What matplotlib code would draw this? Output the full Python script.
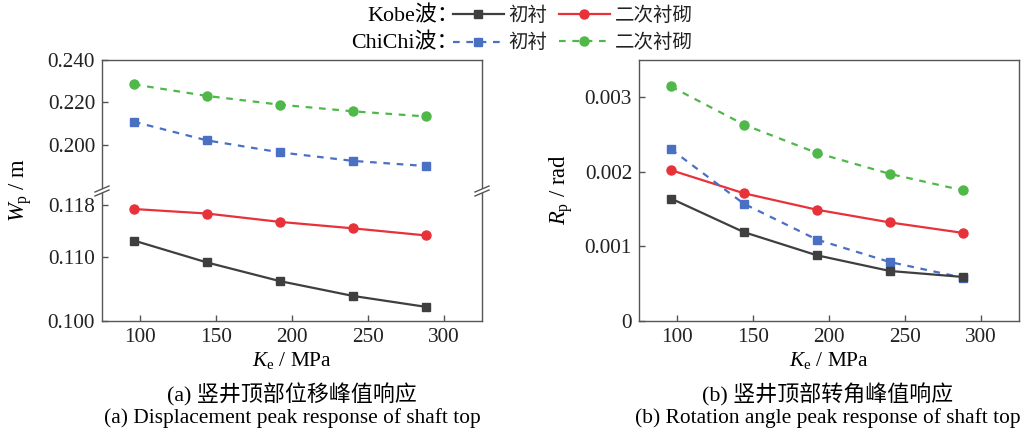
import matplotlib
matplotlib.use("Agg")
import matplotlib.pyplot as plt
from matplotlib.lines import Line2D
from matplotlib.patches import Polygon

plt.rcParams['font.family'] = ['Liberation Serif', 'Noto Sans CJK SC']
plt.rcParams['mathtext.fontset'] = 'custom'
plt.rcParams['mathtext.it'] = 'Liberation Serif:italic'
plt.rcParams['mathtext.rm'] = 'Liberation Serif'

# ---------------- data ----------------
ke = [96, 144, 192, 240, 288]
# (a) displacement peak Wp (m)
wp_kobe_lining = [0.1125, 0.1091, 0.1062, 0.1039, 0.1022]
wp_kobe_second = [0.1174, 0.1167, 0.1154, 0.1144, 0.1133]
wp_chichi_lining = [0.2109, 0.2022, 0.1966, 0.1926, 0.1902]
wp_chichi_second = [0.2284, 0.2230, 0.2189, 0.2158, 0.2134]
# (b) rotation angle peak Rp (rad)
rp_kobe_lining = [0.00164, 0.00119, 0.00088, 0.00067, 0.00059]
rp_kobe_second = [0.00202, 0.00171, 0.00149, 0.00132, 0.00118]
rp_chichi_lining = [0.00230, 0.00157, 0.00109, 0.00079, 0.00058]
rp_chichi_second = [0.00314, 0.00263, 0.00225, 0.00197, 0.00175]

xticks = [100, 150, 200, 250, 300]
wp_upper_ticks = [0.200, 0.220, 0.240]
wp_lower_ticks = [0.100, 0.110, 0.118]
rp_ticks = [0, 0.001, 0.002, 0.003]
rp_ticklabels = ["0", "0.001", "0.002", "0.003"]

legend_labels = ["初衬", "初衬", "二次衬砌", "二次衬砌"]
wave_labels = ["Kobe波：", "ChiChi波："]
captions_a = ["(a) 竖井顶部位移峰值响应", "(a) Displacement peak response of shaft top"]
captions_b = ["(b) 竖井顶部转角峰值响应", "(b) Rotation angle peak response of shaft top"]

# ---------------- styles ----------------
c_black = '#3f3f3f'
c_red = '#e8323a'
c_blue = '#4a70c4'
c_green = '#4fb848'
spine_c = '#555555'
FS = 15.3
W, H = 1022, 429
styles = {
    'kl': dict(color=c_black, marker='s', ls='-', lw=1.6, ms=6),
    'ks': dict(color=c_red, marker='o', ls='-', lw=1.6, ms=6.5),
    'cl': dict(color=c_blue, marker='s', ls=(0, (3, 3)), lw=1.6, ms=6),
    'cs': dict(color=c_green, marker='o', ls=(0, (3, 3)), lw=1.6, ms=6.5),
}

fig = plt.figure(figsize=(W / 100, H / 100), dpi=100)

def fx(px):
    return px / W

def fy(py):
    return 1 - py / H

def style_ax(ax):
    for s in ax.spines.values():
        s.set_color(spine_c)
        s.set_linewidth(1.0)
    ax.tick_params(direction='in', length=4, width=1.0, colors=spine_c,
                   labelsize=FS, labelcolor='#222222', pad=5)

# left panel (broken axis)
L, R = 102, 482
TOP, BRK, BOT = 59.6, 191, 321
ax_u = fig.add_axes([fx(L), fy(BRK), fx(R - L), (BRK - TOP) / H])
ax_l = fig.add_axes([fx(L), fy(BOT), fx(R - L), (BOT - BRK) / H])
for ax in (ax_u, ax_l):
    style_ax(ax)
    ax.set_xlim(75, 325)
    ax.set_xticks(xticks)
ax_u.spines['bottom'].set_visible(False)
ax_u.tick_params(axis='x', bottom=False, labelbottom=False)
ax_l.spines['top'].set_visible(False)

ax_u.plot(ke, wp_chichi_second, **styles['cs'])
ax_u.plot(ke, wp_chichi_lining, **styles['cl'])
ax_l.plot(ke, wp_kobe_second, **styles['ks'])
ax_l.plot(ke, wp_kobe_lining, **styles['kl'])
ax_u.set_ylim(0.1785, 0.2400)
ax_u.set_yticks(wp_upper_ticks)
ax_u.set_yticklabels([f"{v:.3f}" for v in wp_upper_ticks])
ax_l.set_ylim(0.100, 0.1202)
ax_l.set_yticks(wp_lower_ticks)
ax_l.set_yticklabels([f"{v:.3f}" for v in wp_lower_ticks])
ax_l.set_xlabel(r"$K_{\mathrm{e}}$ / MPa", fontsize=FS, labelpad=2)
fig.text(fx(21), fy(190), r"$W_{\mathrm{p}}$ / m", rotation=90, fontsize=FS + 1,
         ha='center', va='center')

# break marks
for xp in (L, R):
    poly = Polygon([(fx(xp - 7), fy(BRK + 1)), (fx(xp + 7), fy(BRK - 5)),
                    (fx(xp + 7), fy(BRK - 1)), (fx(xp - 7), fy(BRK + 5))],
                   closed=True, transform=fig.transFigure, facecolor='white',
                   edgecolor='none', zorder=10)
    fig.add_artist(poly)
    for off in (-2, 2):
        fig.add_artist(Line2D([fx(xp - 7), fx(xp + 7)],
                              [fy(BRK + 3 + off), fy(BRK - 3 + off)],
                              transform=fig.transFigure, color=spine_c, lw=1.0,
                              zorder=11))

# right panel
L2, R2 = 639, 1019
ax_r = fig.add_axes([fx(L2), fy(BOT), fx(R2 - L2), (BOT - TOP) / H])
style_ax(ax_r)
ax_r.plot(ke, rp_chichi_second, **styles['cs'])
ax_r.plot(ke, rp_kobe_second, **styles['ks'])
ax_r.plot(ke, rp_chichi_lining, **styles['cl'])
ax_r.plot(ke, rp_kobe_lining, **styles['kl'])
ax_r.set_xlim(75, 325)
ax_r.set_xticks(xticks)
ax_r.set_ylim(0, 0.0035)
ax_r.set_yticks(rp_ticks)
ax_r.set_yticklabels(rp_ticklabels)
ax_r.set_xlabel(r"$K_{\mathrm{e}}$ / MPa", fontsize=FS, labelpad=2)
fig.text(fx(561), fy(190), r"$R_{\mathrm{p}}$ / rad", rotation=90, fontsize=FS + 1,
         ha='center', va='center')

# captions
for cx, caps in ((292, captions_a), (828, captions_b)):
    fig.text(fx(cx), fy(395), caps[0], fontsize=FS + 0.5, ha='center', va='center')
    fig.text(fx(cx), fy(418), caps[1], fontsize=FS + 0.1, ha='center', va='center')

# legend
handles = [Line2D([], [], **styles[k]) for k in ('kl', 'cl', 'ks', 'cs')]
leg = fig.legend(handles, legend_labels, ncol=2, loc='center left',
                 bbox_to_anchor=(fx(453), fy(29.5)), frameon=False,
                 fontsize=14, handlelength=2.6, handletextpad=0.25,
                 columnspacing=0.6, labelspacing=0.45, borderpad=0,
                 borderaxespad=0)
for t in leg.get_texts():
    t.set_color('#222222')
fig.text(fx(459), fy(16), wave_labels[0], fontsize=FS + 0.5, ha='right', va='center')
fig.text(fx(459), fy(43), wave_labels[1], fontsize=FS + 0.5, ha='right', va='center')

fig.savefig("out.png", dpi=100)
